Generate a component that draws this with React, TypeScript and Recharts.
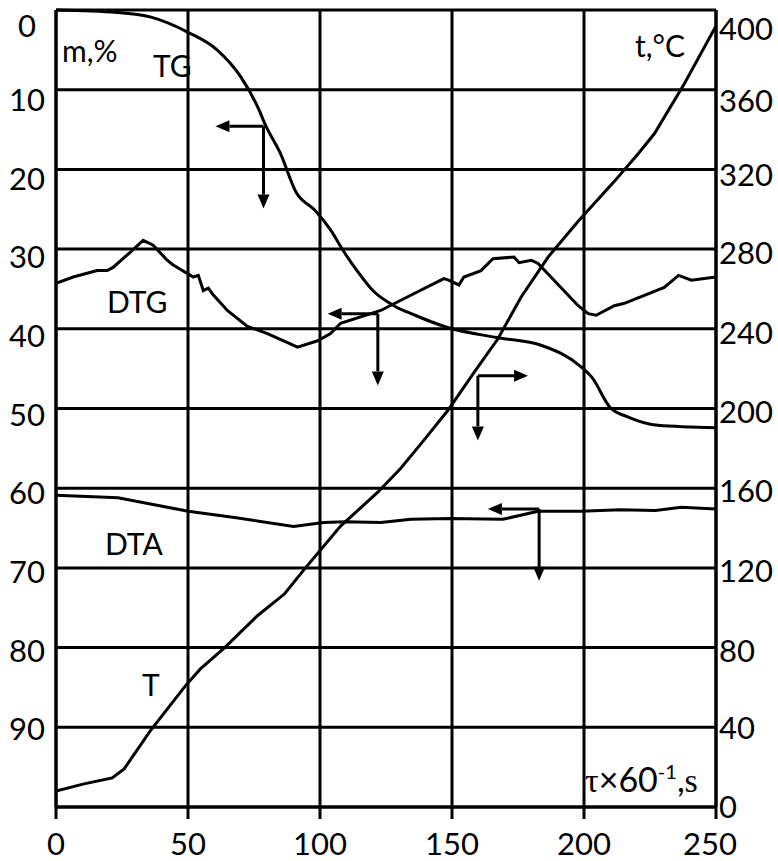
import { LineChart, Line, XAxis, YAxis, CartesianGrid, ReferenceLine } from "recharts";

const FONT = "Lato, 'Open Sans', sans-serif";
const SERIF = "'Liberation Serif', 'DejaVu Serif', serif";

// time axis (tau x 60^-1, s)
const xTicks = [0, 50, 100, 150, 200, 250];
const massTicks = [0, 10, 20, 30, 40, 50, 60, 70, 80, 90, 100];
const tempTicks = [0, 40, 80, 120, 160, 200, 240, 280, 320, 360, 400];

// TG, mass loss %
const tgTime = [0, 23, 36, 50, 61, 70, 77, 79, 85, 91, 98, 104, 109, 114, 120, 128, 136, 148, 167, 184, 199, 203, 210, 217, 228, 250];
const tgMass = [0, 0.3, 0.9, 2.8, 5.0, 8.4, 12.6, 14.2, 18.0, 22.9, 25.1, 27.6, 30.3, 32.7, 35.2, 37.1, 38.3, 39.8, 41.1, 42.1, 44.8, 46.1, 49.9, 51.1, 52.1, 52.4];

// DTG
const dtgTime = [0, 6.5, 15.6, 19.4, 21.6, 28.1, 33, 36.8, 42.1, 44.4, 52, 53.9, 55.8, 57.7, 59.2, 64.9, 72.5, 80.1, 91.5, 99.1, 104, 107.8, 123, 135.5, 145.8, 146.9, 148.8, 152.6, 154.5, 161, 165.5, 173.5, 175.4, 180, 182.6, 197.8, 201.6, 204.6, 211.5, 215.3, 230.4, 235.8, 240.7, 250];
const dtgValue = [34.3, 33.5, 32.7, 32.7, 32.3, 30.4, 28.9, 29.5, 31.4, 32.0, 33.5, 33.3, 35.2, 34.9, 35.6, 37.7, 39.7, 40.6, 42.3, 41.5, 40.6, 39.3, 37.7, 35.6, 33.9, 33.7, 33.9, 34.5, 33.5, 32.7, 31.2, 31.0, 31.7, 31.4, 31.8, 37.1, 38.1, 38.3, 37.1, 36.8, 34.8, 33.3, 33.9, 33.5];

// DTA
const dtaTime = [0, 23.5, 50.1, 68.3, 90, 101.4, 109.7, 123, 134.4, 149.2, 169.3, 182.6, 198.9, 213.7, 227, 236.9, 250];
const dtaValue = [60.9, 61.2, 62.9, 63.7, 64.8, 64.3, 64.2, 64.3, 63.9, 63.8, 63.9, 62.9, 62.9, 62.7, 62.8, 62.4, 62.6];

// T, temperature °C
const tTime = [0, 10.6, 21.3, 25.8, 35.7, 49, 54.7, 63.8, 76.3, 86.6, 94.5, 107.8, 121.9, 130.6, 139.3, 148.4, 158.3, 167.4, 176.2, 186.4, 197.8, 211.5, 220.6, 226.7, 238, 250];
const tTemp = [8, 11.6, 14.6, 19.1, 38.2, 60.8, 69.3, 79.9, 96, 107, 120, 141, 158, 170, 184, 199, 218, 235, 256, 276, 294, 314, 328, 338, 363, 392];

// direction arrows: corner (time, mass), horizontal tip time, vertical tip mass
const arrowCornerX = [78.6, 121.9, 159.8, 183];
const arrowCornerY = [14.6, 38.1, 45.9, 62.6];
const arrowTipX = [60.4, 102.9, 178.8, 163.6];
const arrowTipY = [24.9, 47.1, 54.0, 71.6];

const tgData = tgTime.map((t, i) => ({ t, v: tgMass[i] }));
const dtgData = dtgTime.map((t, i) => ({ t, v: dtgValue[i] }));
const dtaData = dtaTime.map((t, i) => ({ t, v: dtaValue[i] }));
const tData = tTime.map((t, i) => ({ t, v: tTemp[i] }));

const rightShift: Record<number, number> = { 400: 19, 360: 11, 320: 5, 280: 4, 240: 4, 200: 3, 160: 3, 120: 3, 80: 3, 40: 1, 0: 0 };

function LeftTick({ x, y, payload }: any) {
  const v = payload.value;
  if (v === 100) return null;
  const shift = v === 0 ? 16 : 11 - v * 0.1;
  return (
    <text x={x - 29} y={y + shift} dy="0.36em" textAnchor="middle" fontFamily={FONT} fontSize={31} fill="#000">
      {v}
    </text>
  );
}

function RightTick({ x, y, payload }: any) {
  const v = payload.value;
  return (
    <text x={x + 3} y={y + (rightShift[v] ?? 0)} dy="0.36em" textAnchor="start" fontFamily={FONT} fontSize={31} fill="#000">
      {v}
    </text>
  );
}

function BottomTick({ x, y, payload }: any) {
  const v = payload.value;
  return (
    <text x={v === 250 ? x - 6 : x} y={y + 36} textAnchor="middle" fontFamily={FONT} fontSize={31} fill="#000">
      {v}
    </text>
  );
}

function ArrowShape(props: any) {
  const { x1, y1, x2, y2 } = props;
  const dx = x2 - x1;
  const dy = y2 - y1;
  const len = Math.hypot(dx, dy) || 1;
  const ux = dx / len;
  const uy = dy / len;
  const head = 14;
  const half = 6;
  const bx = x2 - ux * head;
  const by = y2 - uy * head;
  return (
    <g>
      <line x1={x1} y1={y1} x2={bx} y2={by} stroke="#000" strokeWidth={3} />
      <polygon
        points={`${x2},${y2} ${bx - uy * half},${by + ux * half} ${bx + uy * half},${by - ux * half}`}
        fill="#000"
      />
    </g>
  );
}

export default function App() {
  return (
    <div style={{ position: "absolute", left: 0, top: 0, width: 778, height: 861, background: "#fff" }}>
      <LineChart width={778} height={861} margin={{ top: 10, right: 0, bottom: 0, left: 0 }}>
        <CartesianGrid yAxisId="left" stroke="#000" strokeWidth={3} />
        <XAxis
          dataKey="t"
          type="number"
          domain={[0, 250]}
          ticks={xTicks}
          height={54}
          tickSize={12}
          tickMargin={0}
          stroke="#000"
          strokeWidth={3}
          tickLine={{ stroke: "#000", strokeWidth: 3 }}
          tick={<BottomTick />}
          allowDataOverflow
        />
        <YAxis
          yAxisId="left"
          type="number"
          domain={[0, 100]}
          reversed
          ticks={massTicks}
          width={56}
          tickSize={0}
          tickMargin={0}
          tickLine={false}
          stroke="#000"
          strokeWidth={3}
          tick={<LeftTick />}
        />
        <YAxis
          yAxisId="right"
          orientation="right"
          type="number"
          domain={[0, 400]}
          ticks={tempTicks}
          width={62}
          tickSize={0}
          tickMargin={0}
          tickLine={false}
          stroke="#000"
          strokeWidth={3}
          tick={<RightTick />}
        />
        <Line yAxisId="left" data={tgData} dataKey="v" type="monotone" stroke="#000" strokeWidth={3} dot={false} isAnimationActive={false} />
        <Line yAxisId="left" data={dtgData} dataKey="v" type="linear" stroke="#000" strokeWidth={3} dot={false} isAnimationActive={false} />
        <Line yAxisId="left" data={dtaData} dataKey="v" type="linear" stroke="#000" strokeWidth={3} dot={false} isAnimationActive={false} />
        <Line yAxisId="right" data={tData} dataKey="v" type="linear" stroke="#000" strokeWidth={3} dot={false} isAnimationActive={false} />
        {arrowCornerX.map((cx, i) => (
          <ReferenceLine
            key={`h${i}`}
            yAxisId="left"
            segment={[{ x: cx, y: arrowCornerY[i] }, { x: arrowTipX[i], y: arrowCornerY[i] }]}
            shape={ArrowShape}
            ifOverflow="visible"
          />
        ))}
        {arrowCornerX.map((cx, i) => (
          <ReferenceLine
            key={`v${i}`}
            yAxisId="left"
            segment={[{ x: cx, y: arrowCornerY[i] }, { x: cx, y: arrowTipY[i] }]}
            shape={ArrowShape}
            ifOverflow="visible"
          />
        ))}
      </LineChart>
      <svg width={778} height={861} style={{ position: "absolute", left: 0, top: 0, pointerEvents: "none" }}>
        <g fontFamily={FONT} fontSize={30} fill="#000">
          <text x={62} y={62}>m,%</text>
          <text x={153} y={77}>TG</text>
          <text x={685} y={57} textAnchor="end">t,°C</text>
          <text x={107} y={313}>DTG</text>
          <text x={105} y={555}>DTA</text>
          <text x={142} y={696}>T</text>
          <text x={585} y={792} fontSize={34}>
            <tspan fontFamily={SERIF}>τ</tspan>
            <tspan>×60</tspan>
            <tspan dy={-13} fontSize={20}>-1</tspan>
            <tspan dy={13}>,</tspan>
            <tspan fontFamily={SERIF}>s</tspan>
          </text>
        </g>
      </svg>
    </div>
  );
}
